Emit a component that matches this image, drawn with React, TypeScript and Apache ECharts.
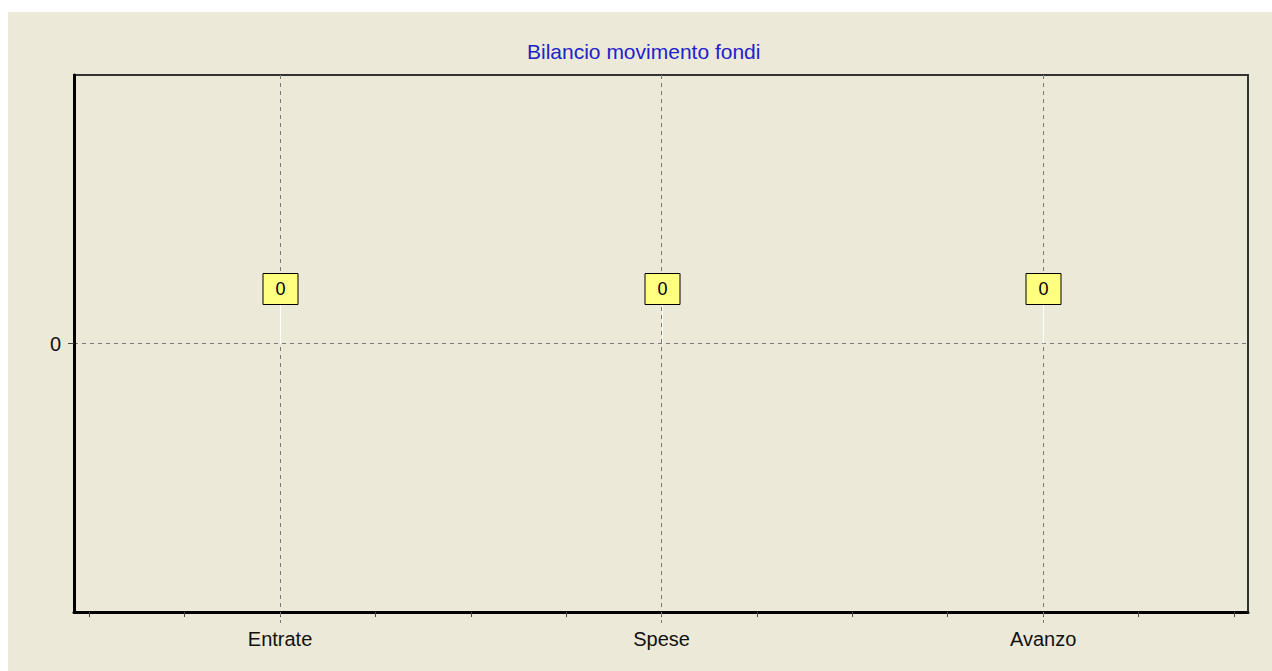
import React, { useEffect, useRef } from "react";
import * as echarts from "echarts";

const categories = ["Entrate", "Spese", "Avanzo"];
const values = [0, 0, 0];
const xTickPositions = [-0.5, -0.25, 0, 0.25, 0.5, 0.75, 1, 1.25, 1.5, 1.75, 2, 2.25, 2.5];
const categoryPositions = [0, 1, 2];
const yTickValues = [0];

const FONT = '"Liberation Sans", Arial, sans-serif';
const GRID_COLOR = "#7a7a7a";

export default function App() {
  const ref = useRef<HTMLDivElement>(null);
  useEffect(() => {
    if (!ref.current) return;
    const chart = echarts.init(ref.current, undefined, { renderer: "svg" });
    const data = values.map((v, i) => [categoryPositions[i], v]);
    chart.setOption({
      animation: false,
      backgroundColor: "#ECE9D8",
      title: {
        text: "Bilancio movimento fondi",
        left: 514,
        top: 24,
        textStyle: { color: "#2222cc", fontSize: 21, fontWeight: "normal", fontFamily: FONT },
      },
      grid: {
        left: 66,
        top: 63,
        right: 24,
        bottom: 59,
        show: true,
        borderColor: "#333",
        borderWidth: 2,
        backgroundColor: "transparent",
      },
      xAxis: [
        {
          type: "value",
          min: -0.54,
          max: 2.537,
          position: "bottom",
          axisLine: { show: true, onZero: false, lineStyle: { color: "#000", width: 3 } },
          axisTick: { show: true, customValues: xTickPositions, length: 5, lineStyle: { color: "#444" } },
          axisLabel: {
            show: true,
            customValues: categoryPositions,
            formatter: (v: number) => categories[Math.round(v)] ?? "",
            margin: 17,
            color: "#111",
            fontSize: 20,
            fontFamily: FONT,
          },
          splitLine: { show: false },
        },
        {
          type: "value",
          min: -0.54,
          max: 2.537,
          position: "bottom",
          axisLine: { show: false, onZero: false },
          axisTick: { show: true, customValues: categoryPositions, length: 11, lineStyle: { color: GRID_COLOR, type: [4, 4] } },
          axisLabel: { show: false },
          splitLine: { show: true, lineStyle: { color: GRID_COLOR, type: [4, 4], width: 1 } },
        },
      ],
      yAxis: {
        type: "value",
        min: -1,
        max: 1,
        axisLine: { show: true, onZero: false, lineStyle: { color: "#000", width: 3 } },
        axisTick: { show: true, customValues: yTickValues, length: 6, lineStyle: { color: "#444" } },
        axisLabel: { show: true, customValues: yTickValues, margin: 13, color: "#111", fontSize: 20, fontFamily: FONT },
        splitLine: { show: true, lineStyle: { color: GRID_COLOR, type: [4, 4], width: 1 } },
      },
      series: [
        {
          type: "custom",
          coordinateSystem: "cartesian2d",
          xAxisIndex: 0,
          yAxisIndex: 0,
          encode: { x: 0, y: 1 },
          data,
          renderItem: (params: any, api: any) => {
            const p = api.coord([api.value(0), api.value(1)]);
            const x = Math.round(p[0]) + 0.5;
            const y = p[1];
            return {
              type: "group",
              children: [
                { type: "line", shape: { x1: x, y1: y, x2: x, y2: y - 39 }, style: { stroke: "#ffffff", lineWidth: 1 } },
                {
                  type: "rect",
                  shape: { x: x - 17.5, y: y - 70, width: 35, height: 31 },
                  style: { fill: "#ffff80", stroke: "#000", lineWidth: 1 },
                },
                {
                  type: "text",
                  style: {
                    text: String(api.value(1)),
                    x,
                    y: y - 54.5,
                    align: "center",
                    verticalAlign: "middle",
                    fontSize: 18,
                    fontFamily: FONT,
                    fill: "#000",
                  },
                },
              ],
            };
          },
        },
      ],
    });
    return () => chart.dispose();
  }, []);
  return (
    <div
      ref={ref}
      style={{ position: "absolute", left: 8, top: 12, width: 1264, height: 659 }}
    />
  );
}
